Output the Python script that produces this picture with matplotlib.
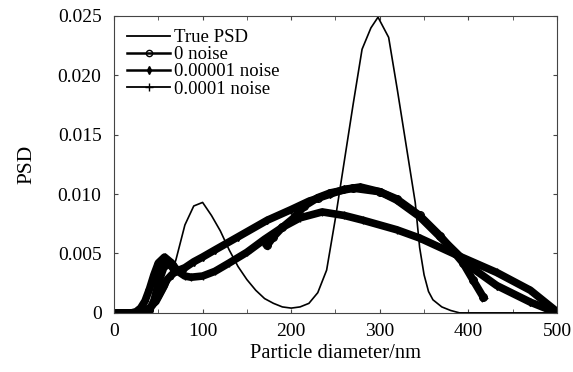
import numpy as np
import matplotlib.pyplot as plt
from matplotlib.lines import Line2D
from matplotlib.ticker import MultipleLocator, FuncFormatter

plt.rcParams['font.family'] = ['Liberation Serif', 'DejaVu Serif']

# True PSD
d_true = [0, 10, 20, 30, 40, 50, 60, 70, 80, 90, 100, 110, 120, 130, 140, 150,
          160, 170, 180, 190, 200, 210, 220, 230, 240, 250, 260, 270, 280, 290,
          298, 310, 320, 330, 340, 345, 350, 355, 360, 370, 380, 390, 400, 450, 500]
psd_true = [0, 0, 0, 0, 0.0002, 0.0008, 0.0022, 0.0045, 0.0074, 0.0090, 0.0093,
            0.0082, 0.0069, 0.0053, 0.0039, 0.0028, 0.0019, 0.0012, 0.0008,
            0.0005, 0.0004, 0.0005, 0.0008, 0.0017, 0.0036, 0.0080, 0.0128,
            0.0176, 0.0222, 0.0240, 0.0249, 0.0232, 0.0187, 0.0140, 0.0093,
            0.0055, 0.0032, 0.0018, 0.0011, 0.0005, 0.0002, 0, 0, 0, 0]

# 0 noise (two visible pieces)
d_n0 = [0, 10, 20, 30, 35, 40, 45, 50, 57, 62, 68, np.nan,
        173, 180, 190, 203, 215, 230, 244, 270, 300, 319, 345, 368, 394, 405, 417]
psd_n0 = [0, 0, 0, 0, 0, 0.0002, 0.0010, 0.0025, 0.0040, 0.0042, 0.0036, np.nan,
          0.0057, 0.0064, 0.0072, 0.0080, 0.0090, 0.0097, 0.0101, 0.0105,
          0.0102, 0.0096, 0.0082, 0.0065, 0.0042, 0.0028, 0.0013]

# 0.00001 noise
d_n1 = [0, 10, 20, 25, 30, 40, 45, 50, 55, 60, 65, 70, 80, 90, 100, 114, 140,
        173, 200, 220, 244, 260, 278, 300, 319, 345, 368, 394, 402, 432, 470, 500]
psd_n1 = [0, 0, 0, 0, 0.0001, 0.0004, 0.0008, 0.0014, 0.0021, 0.0028, 0.0032,
          0.0035, 0.0038, 0.0043, 0.0047, 0.0053, 0.0064, 0.0078, 0.0087,
          0.0094, 0.0100, 0.0104, 0.0106, 0.0102, 0.0095, 0.0081, 0.0064,
          0.0045, 0.0039, 0.0023, 0.0009, 0]

# 0.0001 noise
d_n2 = [0, 10, 20, 25, 30, 35, 40, 45, 50, 57, 65, 72, 80, 87, 100, 114, 130,
        150, 170, 190, 210, 235, 260, 281, 319, 345, 383, 432, 470, 500]
psd_n2 = [0, 0, 0, 0.0001, 0.0004, 0.0010, 0.0020, 0.0032, 0.0042, 0.0047,
          0.0042, 0.0035, 0.0031, 0.0030, 0.0031, 0.0035, 0.0042, 0.0051,
          0.0062, 0.0072, 0.0080, 0.0085, 0.0082, 0.0078, 0.0070, 0.0063,
          0.0050, 0.0034, 0.0019, 0.0001]

fig = plt.figure(figsize=(5.73, 3.72), dpi=100)
ax = fig.add_axes([0.199, 0.159, 0.773, 0.798])

ax.plot(d_n2, psd_n2, color='black', lw=5.5, marker='+', ms=6, mew=1)
ax.plot(d_n1, psd_n1, color='black', lw=5.5, marker='d', ms=4)
ax.plot(d_n0, psd_n0, color='black', lw=5.5, marker='o', ms=5.5, mfc='none', mew=1)
ax.plot(d_true, psd_true, color='black', lw=1.2)

ax.set_xlim(0, 500)
ax.set_ylim(0, 0.025)
ax.xaxis.set_major_locator(MultipleLocator(100))
ax.xaxis.set_minor_locator(MultipleLocator(50))
ax.yaxis.set_major_locator(MultipleLocator(0.005))
ax.yaxis.set_major_formatter(FuncFormatter(lambda v, p: '0' if abs(v) < 1e-9 else f'{v:.3f}'))
ax.tick_params(which='both', direction='in', top=True, right=True, length=3,
               labelsize=14, color='#444444')
ax.tick_params(axis='x', pad=7)
ax.tick_params(axis='y', pad=9)
for s in ax.spines.values():
    s.set_color('#444444')

ax.set_xlabel('Particle diameter/nm', fontsize=14.8, labelpad=3)
ax.set_ylabel('PSD', fontsize=15.5, labelpad=15)

handles = [
    Line2D([], [], color='black', lw=1.3),
    Line2D([], [], color='black', lw=1.8, marker='o', ms=4.5, mfc='none'),
    Line2D([], [], color='black', lw=1.8, marker='d', ms=4),
    Line2D([], [], color='black', lw=1.3, marker='+', ms=6),
]
labels = ['True PSD', '0 noise', '0.00001 noise', '0.0001 noise']
ax.legend(handles, labels, loc='upper left', frameon=False, fontsize=13.5,
          handlelength=2.3, handletextpad=0.2, labelspacing=0.0,
          borderaxespad=0.3, bbox_to_anchor=(0.0, 1.0))

fig.savefig('out.png', dpi=100)
